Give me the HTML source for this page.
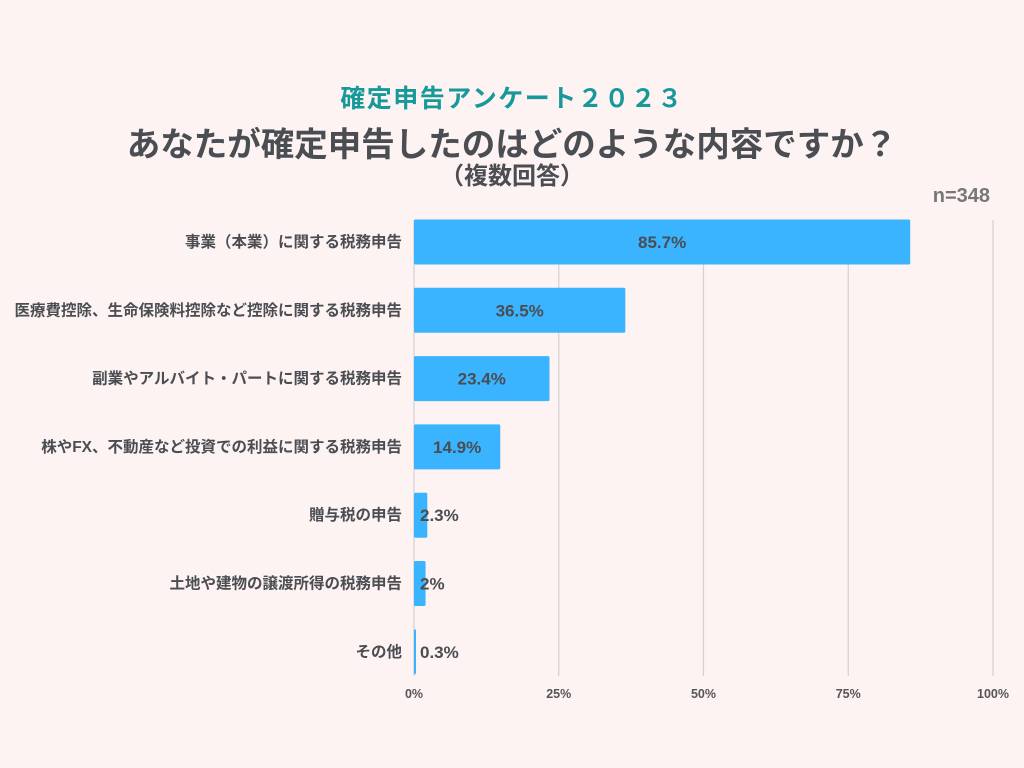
<!DOCTYPE html>
<html><head><meta charset="utf-8"><style>
body{margin:0;background:#fdf3f3;font-family:"Liberation Sans","Noto Sans CJK JP",sans-serif;}
#wrap{position:relative;width:1024px;height:768px;overflow:hidden;background:#fdf3f3;}
.t{position:absolute;left:0;width:1024px;text-align:center;font-weight:bold;}
</style></head><body>
<div id="wrap">
<div class="t" style="top:79px;font-size:25px;color:#17999a;letter-spacing:1.5px;">確定申告アンケート２０２３</div>
<div class="t" style="top:117px;font-size:33.5px;color:#4a4d52;">あなたが確定申告したのはどのような内容ですか？</div>
<div class="t" style="top:156px;font-size:24px;color:#4a4d52;">（複数回答）</div>
<div style="position:absolute;right:34px;top:185px;font-size:20px;font-weight:bold;color:#777;">n=348</div>
<svg id="svg" width="1024" height="768" style="position:absolute;left:0;top:0"></svg>
</div>
<script>
const categories=["事業（本業）に関する税務申告","医療費控除、生命保険料控除など控除に関する税務申告","副業やアルバイト・パートに関する税務申告","株やFX、不動産など投資での利益に関する税務申告","贈与税の申告","土地や建物の譲渡所得の税務申告","その他"];
const values=[85.7,36.5,23.4,14.9,2.3,2,0.3];
const valueLabels=["85.7%","36.5%","23.4%","14.9%","2.3%","2%","0.3%"];
const ticks=[0,25,50,75,100];
const tickLabels=["0%","25%","50%","75%","100%"];
const NS="http://www.w3.org/2000/svg";
const svg=document.getElementById('svg');
const x0=414,x1=993,yTop=208,step=68.3,bh=45;
const xs=v=>x0+(x1-x0)*v/100;
const yc=i=>yTop+step*i+34;
function mk(t,a){const e=document.createElementNS(NS,t);for(const k in a)e.setAttribute(k,a[k]);svg.appendChild(e);return e;}
ticks.forEach((t,i)=>{
 const l=mk('line',{x1:xs(t),x2:xs(t),y1:220,y2:676,stroke:'#d4d0d0','stroke-width':1.2});
 
 
 const tx=mk('text',{x:xs(t),y:698,'text-anchor':'middle','font-size':12.5,'font-weight':'bold',fill:'#555'});
 tx.textContent=tickLabels[i];
 
 
});
categories.forEach((c,i)=>{
 const y=yc(i);
 const r=mk('rect',{x:x0,y:y-bh/2,width:Math.max(xs(values[i])-x0,2),height:bh,fill:'#3ab4ff',rx:1.5});
 
 
 const w=xs(values[i])-x0;
 const lb=mk('text',{x:w>60?x0+w/2:x0+6,y:y+6,'text-anchor':w>60?'middle':'start','font-size':17,'font-weight':'bold',fill:'#4a4d52'});
 lb.textContent=valueLabels[i];
 
 
 const cl=mk('text',{x:402,y:y+5,'text-anchor':'end','font-size':15.5,'font-weight':'bold',fill:'#4a4d52'});
 cl.textContent=c;
 
 
});
</script>
</body></html>
